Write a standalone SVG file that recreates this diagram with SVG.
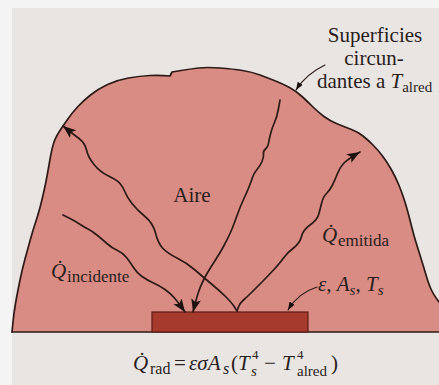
<svg xmlns="http://www.w3.org/2000/svg" width="439" height="385" viewBox="0 0 439 385">
<style>
.ln{fill:none;stroke:#2e1a16;stroke-width:1.7;stroke-linecap:round;stroke-linejoin:round}
.ptr{fill:none;stroke:#2e1a16;stroke-width:1.2;stroke-linecap:round}
.t{font-family:"Liberation Serif","Times New Roman",serif;fill:#2a1e1c;font-size:21px}
.i{font-style:italic}
</style>
<defs>
<marker id="ah" markerUnits="userSpaceOnUse" markerWidth="16" markerHeight="12" refX="13" refY="5" orient="auto">
<path d="M0,0 L13,5 L0,10 L3,5 Z" fill="#1e1210"/>
</marker>
<marker id="as" markerUnits="userSpaceOnUse" markerWidth="10" markerHeight="8" refX="8" refY="3" orient="auto">
<path d="M0,0 L8,3 L0,6 Z" fill="#1e1210"/>
</marker>
</defs>
<rect x="0" y="0" width="439" height="385" fill="#f4f4f4"/>
<rect x="12" y="8" width="427" height="377" fill="#e9e5e3"/>
<g id="surroundings">
<path d="M12,332 L13,322 Q14,312 15.5,303.5 Q17,295 19.5,282.5 Q22,270 25,259 Q28,248 30.5,239 Q33,230 35.5,222.5 Q38,215 40,207.5 Q42,200 44,191 Q46,182 47.5,173.5 Q49,165 50.5,156.5 Q52,148 54,142 Q56,136 63,126 L67.5,119.5 Q72,113 77.5,107 Q83,101 90.5,95 Q98,89 107.5,84.5 Q117,80 128.5,78 Q140,76 150,75.5 Q160,75 170,76 L172,72 L181,70.5 Q190,69 198.5,68 Q207,67 220,68 Q233,69 242.5,70.5 Q252,72 260,75 Q268,78 275.5,81 Q283,84 289.5,87.5 Q296,91 302,96.5 Q308,102 313,107 Q318,112 324,116.5 Q330,121 337.5,124 Q345,127 351.5,129.5 Q358,132 363,136 Q368,140 373,145 Q378,150 382.5,156 Q387,162 391,169 Q395,176 398,183 Q401,190 403.5,197.5 Q406,205 408,212.5 Q410,220 412,228 Q414,236 416.5,244 Q419,252 421.5,260 Q424,268 426,275 Q428,282 430.5,288 Q433,294 439,302 L439,332 Z" fill="#d88c84"/>
<path class="ln" d="M12,332 L13,322 Q14,312 15.5,303.5 Q17,295 19.5,282.5 Q22,270 25,259 Q28,248 30.5,239 Q33,230 35.5,222.5 Q38,215 40,207.5 Q42,200 44,191 Q46,182 47.5,173.5 Q49,165 50.5,156.5 Q52,148 54,142 Q56,136 63,126 L67.5,119.5 Q72,113 77.5,107 Q83,101 90.5,95 Q98,89 107.5,84.5 Q117,80 128.5,78 Q140,76 150,75.5 Q160,75 170,76 L172,72 L181,70.5 Q190,69 198.5,68 Q207,67 220,68 Q233,69 242.5,70.5 Q252,72 260,75 Q268,78 275.5,81 Q283,84 289.5,87.5 Q296,91 302,96.5 Q308,102 313,107 Q318,112 324,116.5 Q330,121 337.5,124 Q345,127 351.5,129.5 Q358,132 363,136 Q368,140 373,145 Q378,150 382.5,156 Q387,162 391,169 Q395,176 398,183 Q401,190 403.5,197.5 Q406,205 408,212.5 Q410,220 412,228 Q414,236 416.5,244 Q419,252 421.5,260 Q424,268 426,275 Q428,282 430.5,288 Q433,294 439,302"/>
<line class="ln" x1="12" y1="332" x2="439" y2="332"/>
</g>
<g id="surface">
<rect x="152" y="312" width="156" height="20" fill="#a63a2c" stroke="#5e1c14" stroke-width="1.2"/>
</g>
<g id="connectors">
<path class="ln" marker-end="url(#ah)" d="M237,311 L234.5,307 Q232,303 226,297 Q220,291 211.5,284 Q203,277 195,270 Q187,263 177,258 Q167,253 162.5,248 Q158,243 155.5,233 Q153,223 145,216.5 Q137,210 132,203.5 Q127,197 125,192 Q123,187 120,183.5 Q117,180 108.5,176 Q100,172 94,164.5 Q88,157 86.5,150 Q85,143 79,138.5 Q73,134 63,126"/>
<path class="ln" marker-end="url(#ah)" d="M280,100 L278.5,108.5 Q277,117 274.5,122.5 Q272,128 270.5,134 Q269,140 268.5,143.5 Q268,147 265.5,149 Q263,151 263.5,154 Q264,157 262,161.5 Q260,166 257,169.5 Q254,173 252.5,177.5 Q251,182 249,187 Q247,192 243.5,199.5 Q240,207 236.5,217 Q233,227 230,233.5 Q227,240 223.5,246.5 Q220,253 213.5,263 Q207,273 203.5,280 Q200,287 198,293.5 Q196,300 193,312"/>
<path class="ln" marker-end="url(#ah)" d="M63,215 L69,218 Q75,221 79.5,224 Q84,227 88,229 Q92,231 97.5,235.5 Q103,240 107.5,244 Q112,248 117.5,250.5 Q123,253 126.5,257.5 Q130,262 133.5,267.5 Q137,273 142,276.5 Q147,280 153.5,283 Q160,286 165,289.5 Q170,293 174,297.5 Q178,302 185,312"/>
<path class="ln" marker-end="url(#ah)" d="M237,311 L238.5,307 Q240,303 243.5,300 Q247,297 252,292 Q257,287 262,282 Q267,277 273.5,270 Q280,263 283.5,258 Q287,253 293.5,248 Q300,243 301.5,236.5 Q303,230 310,225 Q317,220 318.5,215 Q320,210 321.5,203.5 Q323,197 326.5,193.5 Q330,190 332.5,185 Q335,180 337.5,173.5 Q340,167 344,163 Q348,159 360,152"/>
<path class="ptr" marker-end="url(#as)" d="M325,65 Q306,74 296,90"/>
<path class="ptr" marker-end="url(#as)" d="M317,287 Q298,293 288,310"/>
</g>
<g id="label-surroundings">
<text class="t" x="375" y="42" text-anchor="middle">Superficies</text>
<text class="t" x="374" y="65" text-anchor="middle">circun-</text>
<text class="t" x="317" y="88">dantes a <tspan class="i">T</tspan><tspan font-size="15" dy="4">alred</tspan></text>
</g>
<g id="label-air">
<text class="t" x="192" y="202" text-anchor="middle">Aire</text>
</g>
<g id="label-incident">
<text class="t" x="51" y="278"><tspan class="i">Q&#x307;</tspan><tspan x="67" dy="4" font-size="17">incidente</tspan></text>
</g>
<g id="label-emitted">
<text class="t" x="322" y="242"><tspan class="i">Q&#x307;</tspan><tspan x="338" dy="4" font-size="17">emitida</tspan></text>
</g>
<g id="label-surface">
<text class="t" x="318" y="291"><tspan class="i">ε</tspan>, <tspan class="i">A</tspan><tspan class="i" font-size="15" dy="4">s</tspan><tspan dy="-4">, </tspan><tspan class="i">T</tspan><tspan class="i" font-size="15" dy="4">s</tspan></text>
</g>
<g id="formula">
<text class="t" y="370" font-size="22"><tspan class="i" x="133">Q&#x307;</tspan><tspan x="150" dy="4" font-size="16">rad</tspan><tspan x="174" dy="-4">=</tspan><tspan class="i" x="189">εσA</tspan><tspan class="i" x="223" dy="4" font-size="16">s</tspan><tspan x="231" dy="-4">(</tspan><tspan class="i" x="238">T</tspan><tspan x="252" dy="-11" font-size="13">4</tspan><tspan class="i" x="251" dy="17" font-size="15">s</tspan><tspan x="264" dy="-6">−</tspan><tspan class="i" x="282">T</tspan><tspan x="297" dy="-11" font-size="13">4</tspan><tspan x="297" dy="17" font-size="15">alred</tspan><tspan x="331" dy="-6">)</tspan></text>
</g>
</svg>
